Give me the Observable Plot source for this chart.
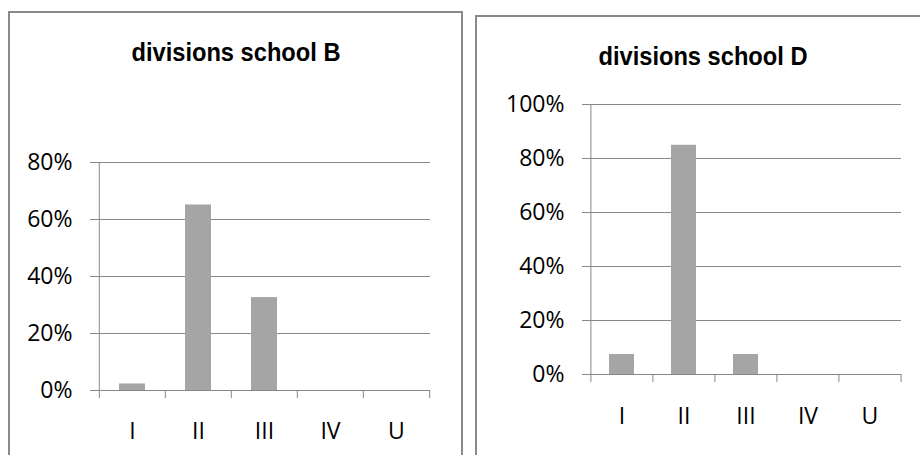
<!DOCTYPE html>
<html>
<head>
<meta charset="utf-8">
<script src="https://cdn.jsdelivr.net/npm/d3@7"></script>
<script src="https://cdn.jsdelivr.net/npm/@observablehq/plot@0.6"></script>
<style>
  html, body { margin: 0; padding: 0; background: #fff; }
  #root { position: relative; width: 920px; height: 455px; overflow: hidden; background: #fff; }
  .chart { position: absolute; top: 0; }
  .panel { position: absolute; box-sizing: border-box; border: 2px solid #8a8a8a; pointer-events: none; }
  .title { position: absolute; font-family: "Liberation Sans", Arial, sans-serif; font-weight: bold;
           font-size: 26px; line-height: 30px; text-align: center; color: #000; transform: scaleX(0.91); }
</style>
</head>
<body>
<div id="root"></div>
<script>
// ---- data ----
const categories = ["I", "II", "III", "IV", "U"];
const schoolBValues = [0.023, 0.651, 0.326, 0, 0];
const schoolDValues = [0.074, 0.849, 0.074, 0, 0];
const schoolBTicks = [0, 0.2, 0.4, 0.6, 0.8];
const schoolDTicks = [0, 0.2, 0.4, 0.6, 0.8, 1.0];
const titles = ["divisions school B", "divisions school D"];

const root = document.getElementById("root");
const BAR = "#a5a5a5", GRID = "#878787";
const pct = d => Math.round(d * 100) + "%";

function chart(values, ticks, yMax, W, H, m, padX) {
  const data = categories.map((c, i) => ({cat: c, value: values[i]}));
  const step = (W - m.left - m.right) / categories.length;
  const plotH = H - m.top - m.bottom;
  return Plot.plot({
    width: W, height: H,
    marginLeft: m.left, marginRight: m.right, marginTop: m.top, marginBottom: m.bottom,
    style: {fontFamily: "'Open Sans', sans-serif", fontSize: "23px", background: "transparent", color: "#000", maxWidth: "none", overflow: "visible"},
    x: {domain: categories, paddingInner: 0.6, paddingOuter: 0.3, tickSize: 0, tickPadding: padX, label: null},
    y: {domain: [0, yMax], ticks: ticks, tickFormat: pct, tickSize: 0, tickPadding: 26, label: null},
    marks: [
      Plot.ruleY(ticks, {y: d => d, stroke: GRID, strokeWidth: 1, insetLeft: -8}),
      Plot.barY(data, {x: "cat", y: "value", fill: BAR}),
      Plot.ruleX([categories[0]], {x: d => d, dx: -step / 2, stroke: GRID, insetBottom: -8}),
      Plot.ruleX(categories.slice(1), {x: d => d, dx: -step / 2, stroke: GRID, insetTop: plotH, insetBottom: -8}),
      Plot.ruleX([categories[categories.length - 1]], {x: d => d, dx: step / 2, stroke: GRID, insetTop: plotH, insetBottom: -8})
    ]
  });
}

const left = chart(schoolBValues, schoolBTicks, 0.8, 465, 455, {left: 98, right: 35, top: 162, bottom: 65}, 32);
left.classList.add("chart"); left.style.left = "0px";
root.appendChild(left);

const right = chart(schoolDValues, schoolDTicks, 1.0, 455, 455, {left: 125, right: 19, top: 104, bottom: 81}, 33);
right.classList.add("chart"); right.style.left = "465px";
root.appendChild(right);

function addPanel(x, y, w, h) {
  const d = document.createElement("div");
  d.className = "panel";
  Object.assign(d.style, {left: x + "px", top: y + "px", width: w + "px", height: h + "px"});
  root.appendChild(d);
}
addPanel(8, 11, 455, 470);
addPanel(475, 15, 480, 470);

function addTitle(text, cx, top) {
  const d = document.createElement("div");
  d.className = "title";
  d.textContent = text;
  Object.assign(d.style, {left: (cx - 200) + "px", top: top + "px", width: "400px"});
  root.appendChild(d);
}
addTitle(titles[0], 236, 37);
addTitle(titles[1], 703, 41);
</script>
</body>
</html>
